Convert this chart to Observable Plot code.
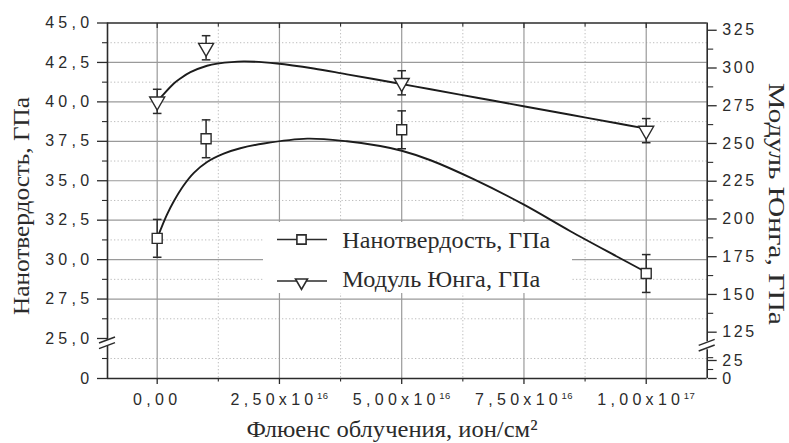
<!DOCTYPE html>
<html><head><meta charset="utf-8">
<script src="https://cdn.jsdelivr.net/npm/d3@7"></script>
<script src="https://cdn.jsdelivr.net/npm/@observablehq/plot@0.6"></script>
<style>
html,body{margin:0;padding:0;background:#fff}
#chart svg{display:block}
</style>
</head><body><div id="chart"></div>
<script>
// ---- data ----
const fluence = [0, 1e16, 5e16, 1e17];
const hardness = [31.35, 37.66, 38.23, 29.12];
const hardnessErr = [1.2, 1.2, 1.2, 1.2];
const modulus = [277.9, 313.4, 290.2, 258.5];
const modulusErr = [8, 8, 8, 8];

const hardFitX = [0, 0.07e16, 0.2e16, 0.34e16, 0.54e16, 0.75e16, 1.02e16, 1.36e16, 1.7e16, 2.18e16, 3.07e16, 3.88e16, 4.56e16, 5.0e16, 5.59e16, 6.47e16, 7.49e16, 8.45e16, 9.4e16, 1e17];
const hardFitY = [31.35, 31.9, 32.85, 33.7, 34.7, 35.5, 36.19, 36.72, 37.06, 37.36, 37.67, 37.5, 37.2, 36.9, 36.3, 35.1, 33.5, 31.8, 30.2, 29.2];
const modFitX = [0, 0.07e16, 0.34e16, 0.48e16, 0.68e16, 1.02e16, 1.23e16, 1.77e16, 2.45e16, 3.2e16, 3.88e16, 4.91e16, 5.59e16, 6.54e16, 7.49e16, 8.45e16, 9.4e16, 1e17];
const modFitY = [277.9, 280.4, 289.7, 293.2, 297.2, 301.5, 302.9, 304.4, 303.0, 299.7, 295.8, 289.9, 285.9, 280.3, 274.7, 269.0, 263.4, 259.8];

const xMajor = [0, 2.5e16, 5e16, 7.5e16, 1e17];
const xMajorLabels = ["0,00", "2,50x10^16", "5,00x10^16", "7,50x10^16", "1,00x10^17"];
const xMinor = [1.25e16, 3.75e16, 6.25e16, 8.75e16];
const leftMajor = [0, 25, 27.5, 30, 32.5, 35, 37.5, 40, 42.5, 45];
const leftMajorLabels = ["0", "25,0", "27,5", "30,0", "32,5", "35,0", "37,5", "40,0", "42,5", "45,0"];
const leftMinor = [12.5, 26.25, 28.75, 31.25, 33.75, 36.25, 38.75, 41.25, 43.75];
const gridMajorY = [27.5, 30, 32.5, 35, 37.5, 40, 42.5];
const gridMinorY = [12.5, 26.25, 28.75, 31.25, 33.75, 36.25, 38.75, 41.25, 43.75];
const rightMajor = [0, 25, 125, 150, 175, 200, 225, 250, 275, 300, 325];
const rightMajorLabels = ["0", "25", "125", "150", "175", "200", "225", "250", "275", "300", "325"];
const rightMinor = [12.5, 37.5, 137.5, 162.5, 187.5, 212.5, 237.5, 262.5, 287.5, 312.5];

const seriesNames = ["Нанотвердость, ГПа", "Модуль Юнга, ГПа"];
const xTitle = "Флюенс облучения, ион/см²";

// secondary (right) axis relation: modulus value -> left-axis units
const eAnchors = [0, 25, 125, 325];
const lAnchors = [0, 11.25, 25.4, 44.54];
const eToL = d3.scaleLinear().domain(eAnchors).range(lAnchors);

const pts = fluence.map((x, i) => ({x, h: hardness[i], hErr: hardnessErr[i], e: modulus[i], eErr: modulusErr[i]}));
const hardFit = hardFitX.map((x, i) => ({x, y: hardFitY[i]}));
const modFit = modFitX.map((x, i) => ({x, y: eToL(modFitY[i])}));
const rightMajorL = rightMajor.map(eToL);
const rightMinorL = rightMinor.map(eToL);

// ---- symbols ----
const squareSym = {draw(c, s) { const r = Math.sqrt(s / Math.PI); c.rect(-r, -r, 2 * r, 2 * r); }};
const triSym = {draw(c, s) { const r = Math.sqrt(s / Math.PI); c.moveTo(-r, -0.58 * r); c.lineTo(r, -0.58 * r); c.lineTo(0, 1.16 * r); c.closePath(); }};
const capSym = {draw(c, s) { const r = Math.sqrt(s / Math.PI); c.moveTo(-r, 0); c.lineTo(r, 0); }};
const tickDownSym = {draw(c, s) { const r = Math.sqrt(s / Math.PI); c.moveTo(0, 0); c.lineTo(0, r); }};

const xMin = -1.016e16, xMax = 1.1247e17;
const yTop = d3.max(leftMajor), yBot = d3.min(leftMajor);
const ink = "#2b2b2b";

const plot = Plot.plot({
  width: 789, height: 443,
  marginLeft: 107, marginRight: 82.3, marginTop: 22.5, marginBottom: 65,
  style: {fontFamily: "'Liberation Sans', Arial, sans-serif", fontSize: "16px", color: ink, background: "#fff", overflow: "visible"},
  x: {type: "linear", domain: [xMin, xMax], label: null},
  y: {type: "linear", domain: [0, 25, 45], range: [378, 338, 22.5], label: null},
  marks: [
    Plot.gridX(xMinor, {stroke: "#bdbdbd", strokeOpacity: 1, strokeDasharray: "1.3,2.2"}),
    Plot.gridY(gridMinorY, {stroke: "#bdbdbd", strokeOpacity: 1, strokeDasharray: "1.3,2.2"}),
    Plot.gridX(xMajor, {stroke: "#9a9a9a", strokeOpacity: 1, strokeWidth: 1.2}),
    Plot.gridY(gridMajorY, {stroke: "#9a9a9a", strokeOpacity: 1, strokeWidth: 1.2}),
    Plot.line(hardFit, {x: "x", y: "y", curve: "catmull-rom", stroke: "#1c1c1c", strokeWidth: 1.9}),
    Plot.line(modFit, {x: "x", y: "y", curve: "catmull-rom", stroke: "#1c1c1c", strokeWidth: 1.9}),
    Plot.ruleX(pts, {x: "x", y1: d => d.h - d.hErr, y2: d => d.h + d.hErr, stroke: ink, strokeWidth: 1.5}),
    Plot.ruleX(pts, {x: "x", y1: d => eToL(d.e - d.eErr), y2: d => eToL(d.e + d.eErr), stroke: ink, strokeWidth: 1.5}),
    Plot.dot(pts, {x: "x", y: d => d.h - d.hErr, symbol: capSym, r: 4.3, stroke: ink, strokeWidth: 1.5, fill: "none"}),
    Plot.dot(pts, {x: "x", y: d => d.h + d.hErr, symbol: capSym, r: 4.3, stroke: ink, strokeWidth: 1.5, fill: "none"}),
    Plot.dot(pts, {x: "x", y: d => eToL(d.e - d.eErr), symbol: capSym, r: 4.3, stroke: ink, strokeWidth: 1.5, fill: "none"}),
    Plot.dot(pts, {x: "x", y: d => eToL(d.e + d.eErr), symbol: capSym, r: 4.3, stroke: ink, strokeWidth: 1.5, fill: "none"}),
    Plot.dot(pts, {x: "x", y: "h", symbol: squareSym, r: 5, fill: "white", stroke: ink, strokeWidth: 1.4}),
    Plot.dot(pts, {x: "x", y: d => eToL(d.e), symbol: triSym, r: 7.5, fill: "white", stroke: ink, strokeWidth: 1.4}),
    // frame
    Plot.ruleY([yTop, yBot], {stroke: ink, strokeWidth: 1.6}),
    Plot.ruleX([[0, 20.3], [23.75, 45]], {x: () => xMin, y1: d => d[0], y2: d => d[1], stroke: ink, strokeWidth: 1.6}),
    Plot.ruleX([[0, 17.9], [23.0, 45]], {x: () => xMax, y1: d => d[0], y2: d => d[1], stroke: ink, strokeWidth: 1.6}),
    // top inward ticks
    Plot.dot(xMajor, {x: d => d, y: () => yTop, symbol: tickDownSym, r: 5, stroke: ink, strokeWidth: 1.3, fill: "none"}),
    Plot.dot(xMinor, {x: d => d, y: () => yTop, symbol: tickDownSym, r: 3.5, stroke: ink, strokeWidth: 1.1, fill: "none"}),
    // axes
    Plot.axisX({anchor: "bottom", ticks: xMajor, tickSize: 6, tickPadding: 9, tickFormat: d => xMajorLabels[xMajor.indexOf(d)], fontSize: 16, label: null, stroke: ink, strokeWidth: 1.3}),
    Plot.axisX({anchor: "bottom", ticks: xMinor, tickSize: 3.5, fill: "none", label: null, stroke: ink, strokeWidth: 1.1}),
    Plot.axisY({anchor: "left", ticks: leftMajor, tickSize: 10, tickPadding: 4, tickFormat: d => leftMajorLabels[leftMajor.indexOf(d)], fontSize: 16, label: null, stroke: ink, strokeWidth: 1.3}),
    Plot.axisY({anchor: "left", ticks: leftMinor, tickSize: 5, fill: "none", label: null, stroke: ink, strokeWidth: 1.1}),
    Plot.axisY({anchor: "right", ticks: rightMajorL, tickSize: 9, tickPadding: 6, tickFormat: d => rightMajorLabels[rightMajorL.indexOf(d)], fontSize: 16, label: null, stroke: ink, strokeWidth: 1.3}),
    Plot.axisY({anchor: "right", ticks: rightMinorL, tickSize: 5.5, fill: "none", label: null, stroke: ink, strokeWidth: 1.1})
  ]
});
document.getElementById("chart").appendChild(plot);

// ---- post-processing: tick label styling, superscripts, legend, titles, break marks ----
const svg = d3.select(plot);
svg.selectAll('g[aria-label="x-axis tick label"]').style("letter-spacing", "4.3px");
svg.selectAll('g[aria-label="y-axis tick label"]').each(function () {
  const anchor = this.getAttribute("text-anchor");
  d3.select(this).style("letter-spacing", anchor === "start" ? "2.6px" : "4.3px");
});
svg.selectAll('g[aria-label="x-axis tick label"] text').each(function () {
  const t = this.textContent;
  if (!t.includes("^")) return;
  const [m, e] = t.split("^");
  const sel = d3.select(this);
  sel.text(m);
  sel.append("tspan").attr("dx", -0.5).attr("dy", -6).attr("font-size", 9.5).style("letter-spacing", "0.4px").text(e);
});

const sx = plot.scale("x").apply, sy = plot.scale("y").apply;

// legend (inserted below the curves)
const firstLine = plot.querySelector('g[aria-label="line"]');
const leg = svg.insert("g", () => firstLine);
leg.append("rect").attr("x", 263).attr("y", 222).attr("width", 309).attr("height", 71).attr("fill", "#fff");
const legRows = [{y: 239.5, sym: squareSym, r: 4.6, ty: 248, dy: 0}, {y: 281, sym: triSym, r: 6, ty: 286.5, dy: 1.5}];
legRows.forEach((row, i) => {
  leg.append("line").attr("x1", 277).attr("x2", 327).attr("y1", row.y).attr("y2", row.y).attr("stroke", ink).attr("stroke-width", 1.6);
  const p = d3.path(); row.sym.draw(p, Math.PI * row.r * row.r);
  leg.append("path").attr("d", p.toString()).attr("transform", `translate(301.5,${row.y + row.dy})`).attr("fill", "#fff").attr("stroke", ink).attr("stroke-width", 1.6);
  leg.append("text").attr("x", 342.3).attr("y", row.ty).attr("text-anchor", "start").attr("font-family", "'Liberation Serif', 'Times New Roman', serif").attr("font-size", 23).attr("fill", ink).attr("textLength", i === 0 ? 208 : 198).attr("lengthAdjust", "spacingAndGlyphs").text(seriesNames[i]);
});

// axis titles
const tg = svg.append("g").attr("font-family", "'Liberation Serif', 'Times New Roman', serif").attr("fill", ink);
tg.append("text").attr("transform", "translate(29,206) rotate(-90)").attr("text-anchor", "middle").attr("font-size", 24).attr("textLength", 218).attr("lengthAdjust", "spacingAndGlyphs").text(seriesNames[0]);
tg.append("text").attr("transform", "translate(769,204) rotate(90)").attr("text-anchor", "middle").attr("font-size", 24).attr("textLength", 242).attr("lengthAdjust", "spacingAndGlyphs").text(seriesNames[1]);
tg.append("text").attr("x", 392).attr("y", 437).attr("text-anchor", "middle").attr("font-size", 24).attr("textLength", 291).attr("lengthAdjust", "spacingAndGlyphs").text(xTitle);

// axis break marks
const bg = svg.append("g").attr("stroke", ink).attr("stroke-width", 1.5).attr("fill", "none");
[[sx(xMin), sy(22)], [sx(xMax), sy(20.5)]].forEach(([bx, by]) => {
  [-2.8, 2.8].forEach(off => {
    bg.append("line").attr("x1", bx - 8).attr("y1", by + off + 3).attr("x2", bx + 8).attr("y2", by + off - 3);
  });
});
</script>
</body></html>
